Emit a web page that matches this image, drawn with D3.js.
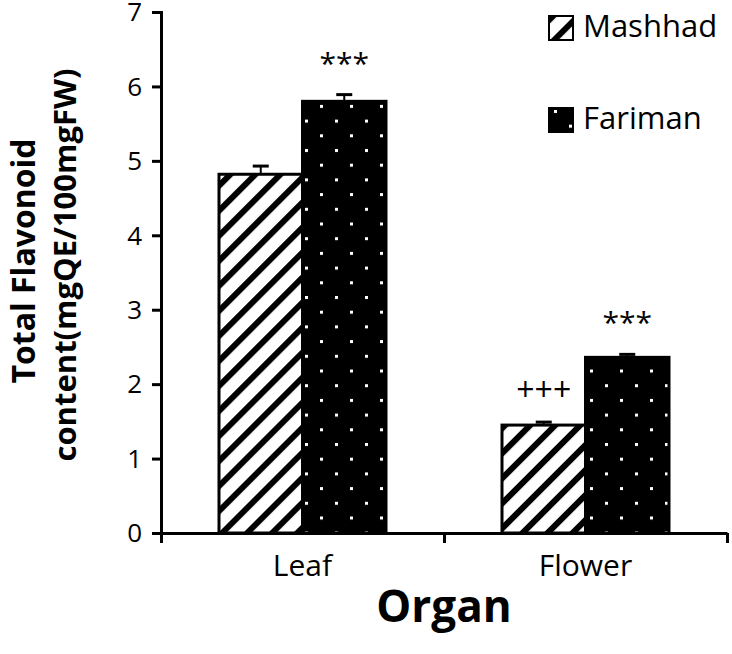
<!DOCTYPE html>
<html>
<head>
<meta charset="utf-8">
<style>
  body { margin: 0; background: #fff; }
  text { font-family: "Open Sans", sans-serif; fill: #000; }
</style>
</head>
<body>
<svg id="chart" width="732" height="654"></svg>
<script src="https://d3js.org/d3.v7.min.js"></script>
<script>
const organs = ['Leaf', 'Flower'];
const sites = ['Mashhad', 'Fariman'];
const mashhad = [4.82, 1.45];
const fariman = [5.80, 2.36];
const mashhadErr = [0.11, 0.04];
const farimanErr = [0.09, 0.04];
const marks = [['', '***'], ['+++', '***']];
const yTicks = [0, 1, 2, 3, 4, 5, 6, 7];

const data = [];
organs.forEach((o, i) => {
  data.push({organ: o, site: 'Mashhad', v: mashhad[i], e: mashhadErr[i], mark: marks[i][0]});
  data.push({organ: o, site: 'Fariman', v: fariman[i], e: farimanErr[i], mark: marks[i][1]});
});

const svg = d3.select('#chart');
const plotLeft = 161, plotRight = 727, plotTop = 12, plotBottom = 533;

const y = d3.scaleLinear().domain([0, 7]).range([plotBottom, plotTop]);
const x0 = d3.scaleBand().domain(organs).range([plotLeft, plotRight]);
const x1 = d3.scaleBand().domain(sites).range([58, x0.bandwidth() - 58]);
const xEdge = d3.scaleLinear().domain([0, organs.length]).range([plotLeft, plotRight]);

// patterns
const defs = svg.append('defs');
const hatch = defs.append('pattern')
  .attr('id', 'hatch')
  .attr('patternUnits', 'userSpaceOnUse')
  .attr('width', 17.7).attr('height', 17.7)
  .attr('patternTransform', 'rotate(45)');
hatch.append('rect').attr('width', 17.7).attr('height', 17.7).attr('fill', '#fff');
hatch.append('rect').attr('width', 6).attr('height', 17.7).attr('fill', '#000');

const dots = defs.append('pattern')
  .attr('id', 'dots')
  .attr('patternUnits', 'userSpaceOnUse')
  .attr('x', 5).attr('y', 2)
  .attr('width', 30).attr('height', 29.4);
dots.append('rect').attr('width', 30).attr('height', 29.4).attr('fill', '#000');
dots.append('rect').attr('x', 0).attr('y', 0).attr('width', 3).attr('height', 3).attr('fill', '#fff');
dots.append('rect').attr('x', 15).attr('y', 14.7).attr('width', 3).attr('height', 3).attr('fill', '#fff');

const fill = s => s === 'Mashhad' ? 'url(#hatch)' : 'url(#dots)';

// bars
const g = svg.append('g');
g.selectAll('rect.bar')
  .data(data)
  .enter().append('rect')
  .attr('class', 'bar')
  .attr('x', d => x0(d.organ) + x1(d.site))
  .attr('y', d => y(d.v))
  .attr('width', x1.bandwidth())
  .attr('height', d => y(0) - y(d.v))
  .attr('fill', d => fill(d.site))
  .attr('stroke', '#000')
  .attr('stroke-width', 3);

// error bars
const cx = d => x0(d.organ) + x1(d.site) + x1.bandwidth() / 2;
g.selectAll('line.err')
  .data(data)
  .enter().append('line')
  .attr('x1', cx).attr('x2', cx)
  .attr('y1', d => y(d.v)).attr('y2', d => y(d.v + d.e))
  .attr('stroke', '#000').attr('stroke-width', 2);
g.selectAll('line.cap')
  .data(data)
  .enter().append('line')
  .attr('x1', d => cx(d) - 8).attr('x2', d => cx(d) + 8)
  .attr('y1', d => y(d.v + d.e)).attr('y2', d => y(d.v + d.e))
  .attr('stroke', '#000').attr('stroke-width', 3);

// significance marks
g.selectAll('text.mark')
  .data(data.filter(d => d.mark))
  .enter().append('text')
  .attr('x', cx)
  .attr('y', d => y(d.v + d.e) - 21)
  .attr('text-anchor', 'middle')
  .style('font-size', d => d.mark === '+++' ? '32px' : '30px')
  .text(d => d.mark);

// axes
const yAxis = svg.append('g')
  .attr('transform', `translate(${plotLeft},0)`)
  .call(d3.axisLeft(y).tickValues(yTicks).tickFormat(d3.format('d')).tickSize(9).tickPadding(10));
const xAxis = svg.append('g')
  .attr('transform', `translate(0,${plotBottom})`)
  .call(d3.axisBottom(xEdge).tickValues(d3.range(organs.length + 1)).tickFormat('').tickSize(10).tickSizeOuter(0));
[yAxis, xAxis].forEach(a => {
  a.select('.domain').attr('stroke', '#000').attr('stroke-width', 3);
  a.selectAll('.tick line').attr('stroke', '#000').attr('stroke-width', 3);
});
yAxis.selectAll('.tick text')
  .style('font-size', '26px').style('font-family', '"Open Sans", sans-serif').attr('fill', '#000')
  .attr('dy', '0.34em');

svg.append('g').selectAll('text')
  .data(organs)
  .enter().append('text')
  .attr('x', d => x0(d) + x0.bandwidth() / 2)
  .attr('y', 576)
  .attr('text-anchor', 'middle')
  .style('font-size', '30px')
  .text(d => d);

svg.append('text')
  .attr('x', (plotLeft + plotRight) / 2)
  .attr('y', 622)
  .attr('text-anchor', 'middle')
  .style('font-size', '44px').style('font-weight', 'bold')
  .text('Organ');

svg.append('text')
  .attr('transform', 'translate(35,261) rotate(-90)')
  .attr('text-anchor', 'middle')
  .style('font-size', '32px').style('font-weight', 'bold')
  .text('Total Flavonoid');
svg.append('text')
  .attr('transform', 'translate(76,265) rotate(-90)')
  .attr('text-anchor', 'middle')
  .style('font-size', '31px').style('font-weight', 'bold')
  .text('content(mgQE/100mgFW)');

// legend
const legend = svg.append('g').selectAll('g')
  .data(sites)
  .enter().append('g')
  .attr('transform', (d, i) => `translate(549,${16 + i * 92})`);
legend.append('rect')
  .attr('width', 24).attr('height', 24)
  .attr('fill', d => fill(d))
  .attr('stroke', '#000').attr('stroke-width', 2);
legend.append('text')
  .attr('x', 34).attr('y', 21)
  .style('font-size', '31px')
  .text(d => d);
</script>
</body>
</html>
